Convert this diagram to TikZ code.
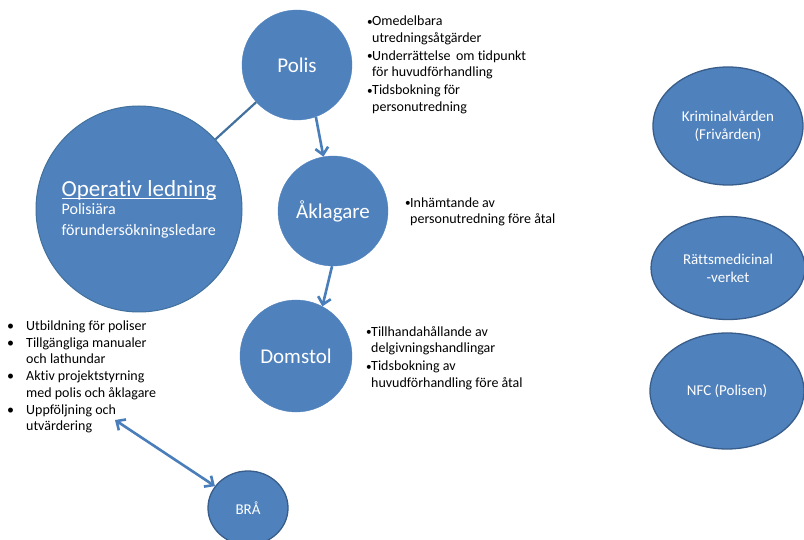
\documentclass[tikz,border=0pt]{standalone}
\usepackage{fontspec}
\usepackage{graphicx}
\setmainfont{Carlito}[Ligatures=CommonOff]
\usetikzlibrary{shapes.geometric,arrows.meta}
\definecolor{nodeblue}{HTML}{4F81BD}
\definecolor{edgeblue}{HTML}{385D8A}
\definecolor{arrowblue}{HTML}{4A7EBB}
\definecolor{lineblue}{HTML}{41719C}
\newcommand\bl{\makebox[5pt][l]{\raisebox{0.5pt}{\scalebox{0.8}{\textbullet}}}}
\newcommand\ind{\hspace*{5pt}}
\newcommand\lbl{\makebox[19pt][l]{\textbullet}}
\newcommand\lind{\hspace*{19pt}}
\newcommand\myul[1]{\setbox0\hbox{#1}\rlap{\rule[-3pt]{\wd0}{1.1pt}}\box0}
\begin{document}
\begin{tikzpicture}[x=1pt,y=-1pt,
  circ/.style={circle,fill=nodeblue,draw=nodeblue,inner sep=0pt,text=white,
    font=\fontsize{21}{24}\selectfont},
  ell/.style={ellipse,fill=nodeblue,draw=edgeblue,line width=1.3pt,inner sep=0pt,
    text=white,align=center,font=\fontsize{15}{18}\selectfont},
  note/.style={inner sep=0pt,align=left,text=black,font=\fontsize{14}{16.5}\selectfont},
  arr/.style={draw=arrowblue,line width=2.6pt,-{Straight Barb[length=7pt,width=13pt]}},
  darr/.style={draw=arrowblue,line width=2.6pt,
    {Straight Barb[length=7pt,width=13pt]}-{Straight Barb[length=7pt,width=13pt]}},
  plain/.style={draw=lineblue,line width=2.2pt}]
\useasboundingbox[fill=white] (0,0) rectangle (804,540);

% circles
\node[circ,minimum size=110pt] (polis) at (297,65) {Polis};
\node[circ,minimum size=110pt] (akl) at (333,211) {Åklagare};
\node[circ,minimum size=112pt] (dom) at (296,356) {Domstol};
\node[circ,minimum size=206pt,draw=lineblue,line width=1pt,align=left,
  font=\fontsize{16}{21}\selectfont] (op) at (139,209)
  {{\fontsize{23}{23}\selectfont\myul{Operativ ledning}}\\[-3pt]Polisiära\\förundersökningsledare};

% right ellipses
\node[ell,minimum width=150pt,minimum height=118pt] (kv) at (728,126) {Kriminalvården\\(Frivården)};
\node[ell,minimum width=154pt,minimum height=103pt] (rmv) at (728,268) {Rättsmedicinal\\-verket};
\node[ell,minimum width=154pt,minimum height=116pt] (nfc) at (727,391) {NFC (Polisen)};
\node[ell,minimum width=80pt,minimum height=74pt] (bra) at (248,508) {BRÅ};

% notes
\node[note,anchor=west] (n1) at (367,65)
  {\bl Omedelbara\\\ind utredningsåtgärder\\[1.5pt]
   \bl Underrättelse \,om tidpunkt\\\ind för huvudförhandling\\[1.5pt]
   \bl Tidsbokning för\\\ind personutredning};
\node[note,anchor=west] (n2) at (405,212)
  {\bl Inhämtande av\\\ind personutredning före åtal};
\node[note,anchor=west] (n3) at (366,358)
  {\bl Tillhandahållande av\\\ind delgivningshandlingar\\[1.5pt]
   \bl Tidsbokning av\\\ind huvudförhandling före åtal};
\node[note,anchor=west,font=\fontsize{14}{16.7}\selectfont] (n4) at (7,377)
  {\lbl Utbildning för poliser\\
   \lbl Tillgängliga manualer\\\lind och lathundar\\
   \lbl Aktiv projektstyrning\\\lind med polis och åklagare\\
   \lbl Uppföljning och\\\lind utvärdering};

% connectors
\coordinate (fu) at (115,420);
\draw[plain] (op) -- (polis);
\draw[arr] (polis.-70) -- (akl.100);
\draw[arr] (akl.-91) -- (dom.62);
\draw[darr] (fu) -- (bra);
\end{tikzpicture}
\end{document}
